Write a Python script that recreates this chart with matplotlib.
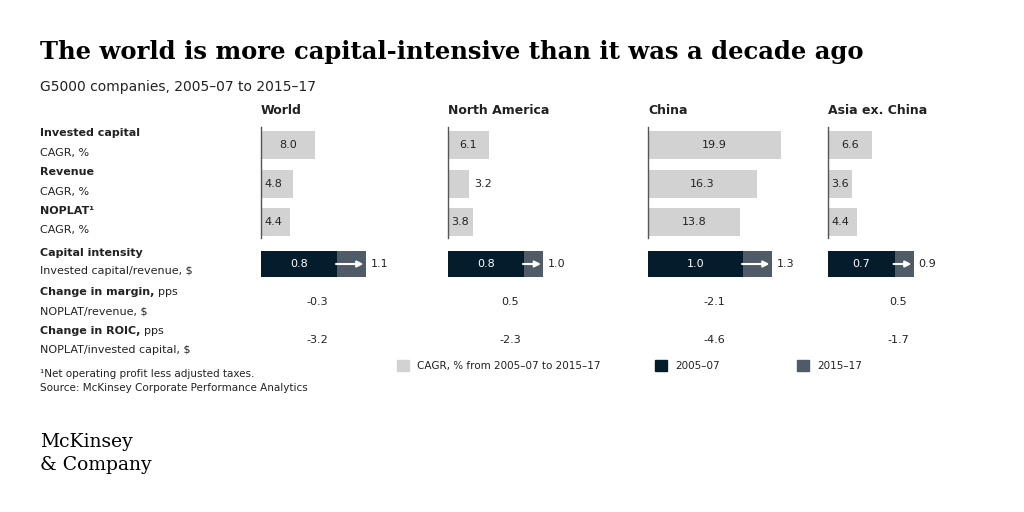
import matplotlib.pyplot as plt
from matplotlib.patches import Rectangle

regions = ['World', 'North America', 'China', 'Asia ex. China']
invested_capital = [8.0, 6.1, 19.9, 6.6]
revenue = [4.8, 3.2, 16.3, 3.6]
noplat = [4.4, 3.8, 13.8, 4.4]
intensity_0507 = [0.8, 0.8, 1.0, 0.7]
intensity_1517 = [1.1, 1.0, 1.3, 0.9]
margin_change = ['-0.3', '0.5', '-2.1', '0.5']
roic_change = ['-3.2', '-2.3', '-4.6', '-1.7']

NAVY = '#051c2c'
SLATE = '#4f5b66'
GRAY = '#d2d2d2'
TXT = '#222222'

panel_x = [261, 448, 648, 828]
value_x = [317, 510, 714, 898]
cagr_scale = 6.7
ci_scale = 95
rows_y = [145, 184, 222]
FS = 8

fig = plt.figure(figsize=(10.24, 5.12), dpi=100)
ax = fig.add_axes([0, 0, 1, 1])
ax.set_xlim(0, 1024)
ax.set_ylim(512, 0)
ax.axis('off')

ax.text(40, 52, 'The world is more capital-intensive than it was a decade ago',
        fontsize=17.5, fontweight='bold', family='DejaVu Serif', va='center', color='#000000')
ax.text(40, 87, 'G5000 companies, 2005\u201307 to 2015\u201317', fontsize=10, va='center', color=TXT)

labels = [('Invested capital', 'CAGR, %', 133, 153), ('Revenue', 'CAGR, %', 172, 192),
          ('NOPLAT\u00b9', 'CAGR, %', 211, 230), ('Capital intensity', 'Invested capital/revenue, $', 253, 271)]
for b, s, y1, y2 in labels:
    ax.text(40, y1, b, fontsize=FS, fontweight='bold', va='center', color=TXT)
    ax.text(40, y2, s, fontsize=FS, va='center', color=TXT)

renderer = fig.canvas.get_renderer()
for b, s, y1, y2 in [('Change in margin,', 'NOPLAT/revenue, $', 292, 311),
                     ('Change in ROIC,', 'NOPLAT/invested capital, $', 331, 350)]:
    t = ax.text(40, y1, b, fontsize=FS, fontweight='bold', va='center', color=TXT)
    bb = t.get_window_extent(renderer)
    ax.text(bb.x1 + 4, y1, 'pps', fontsize=FS, va='center', color=TXT)
    ax.text(40, y2, s, fontsize=FS, va='center', color=TXT)

for i, reg in enumerate(regions):
    x0 = panel_x[i]
    ax.text(x0, 110, reg, fontsize=9, fontweight='bold', va='center', color=TXT)
    vals = [invested_capital[i], revenue[i], noplat[i]]
    ax.barh(rows_y, [v * cagr_scale for v in vals], left=x0, height=28, color=GRAY)
    for y, v in zip(rows_y, vals):
        w = v * cagr_scale
        if w > 40:
            ax.text(x0 + w / 2, y, f'{v:.1f}', fontsize=FS, va='center', ha='center', color=TXT)
        elif w > 23:
            ax.text(x0 + 3, y, f'{v:.1f}', fontsize=FS, va='center', color=TXT)
        else:
            ax.text(x0 + w + 5, y, f'{v:.1f}', fontsize=FS, va='center', color=TXT)
    ax.plot([x0, x0], [127, 238], color='#555555', lw=1)
    w0 = intensity_0507[i] * ci_scale
    w1 = intensity_1517[i] * ci_scale
    ax.barh(264, w0, left=x0, height=26, color=NAVY)
    ax.barh(264, w1 - w0, left=x0 + w0, height=26, color=SLATE)
    ax.text(x0 + w0 / 2, 264, f'{intensity_0507[i]:.1f}', fontsize=FS, va='center', ha='center', color='white')
    ax.annotate('', xy=(x0 + w1 - 2, 264), xytext=(x0 + w0 - 1, 264),
                arrowprops=dict(arrowstyle='-|>', color='white', lw=1.5, mutation_scale=9,
                                shrinkA=0, shrinkB=0))
    ax.text(x0 + w1 + 5, 264, f'{intensity_1517[i]:.1f}', fontsize=FS, va='center', color=TXT)
    ax.text(value_x[i], 302, margin_change[i], fontsize=FS, va='center', ha='center', color=TXT)
    ax.text(value_x[i], 340, roic_change[i], fontsize=FS, va='center', ha='center', color=TXT)

for lx, col, txt in [(397, GRAY, 'CAGR, % from 2005\u201307 to 2015\u201317'),
                     (655, NAVY, '2005\u201307'), (797, SLATE, '2015\u201317')]:
    ax.add_patch(Rectangle((lx, 360), 12, 11, color=col))
    ax.text(lx + 20, 366, txt, fontsize=7.5, va='center', color=TXT)

ax.text(40, 374, '\u00b9Net operating profit less adjusted taxes.', fontsize=7.5, va='center', color=TXT)
ax.text(40, 388, 'Source: McKinsey Corporate Performance Analytics', fontsize=7.5, va='center', color=TXT)
ax.text(40, 442, 'McKinsey', fontsize=13.5, family='DejaVu Serif', va='center', color='#000000')
ax.text(40, 465, '& Company', fontsize=13.5, family='DejaVu Serif', va='center', color='#000000')

fig.savefig('out.png', dpi=100, facecolor='white')
